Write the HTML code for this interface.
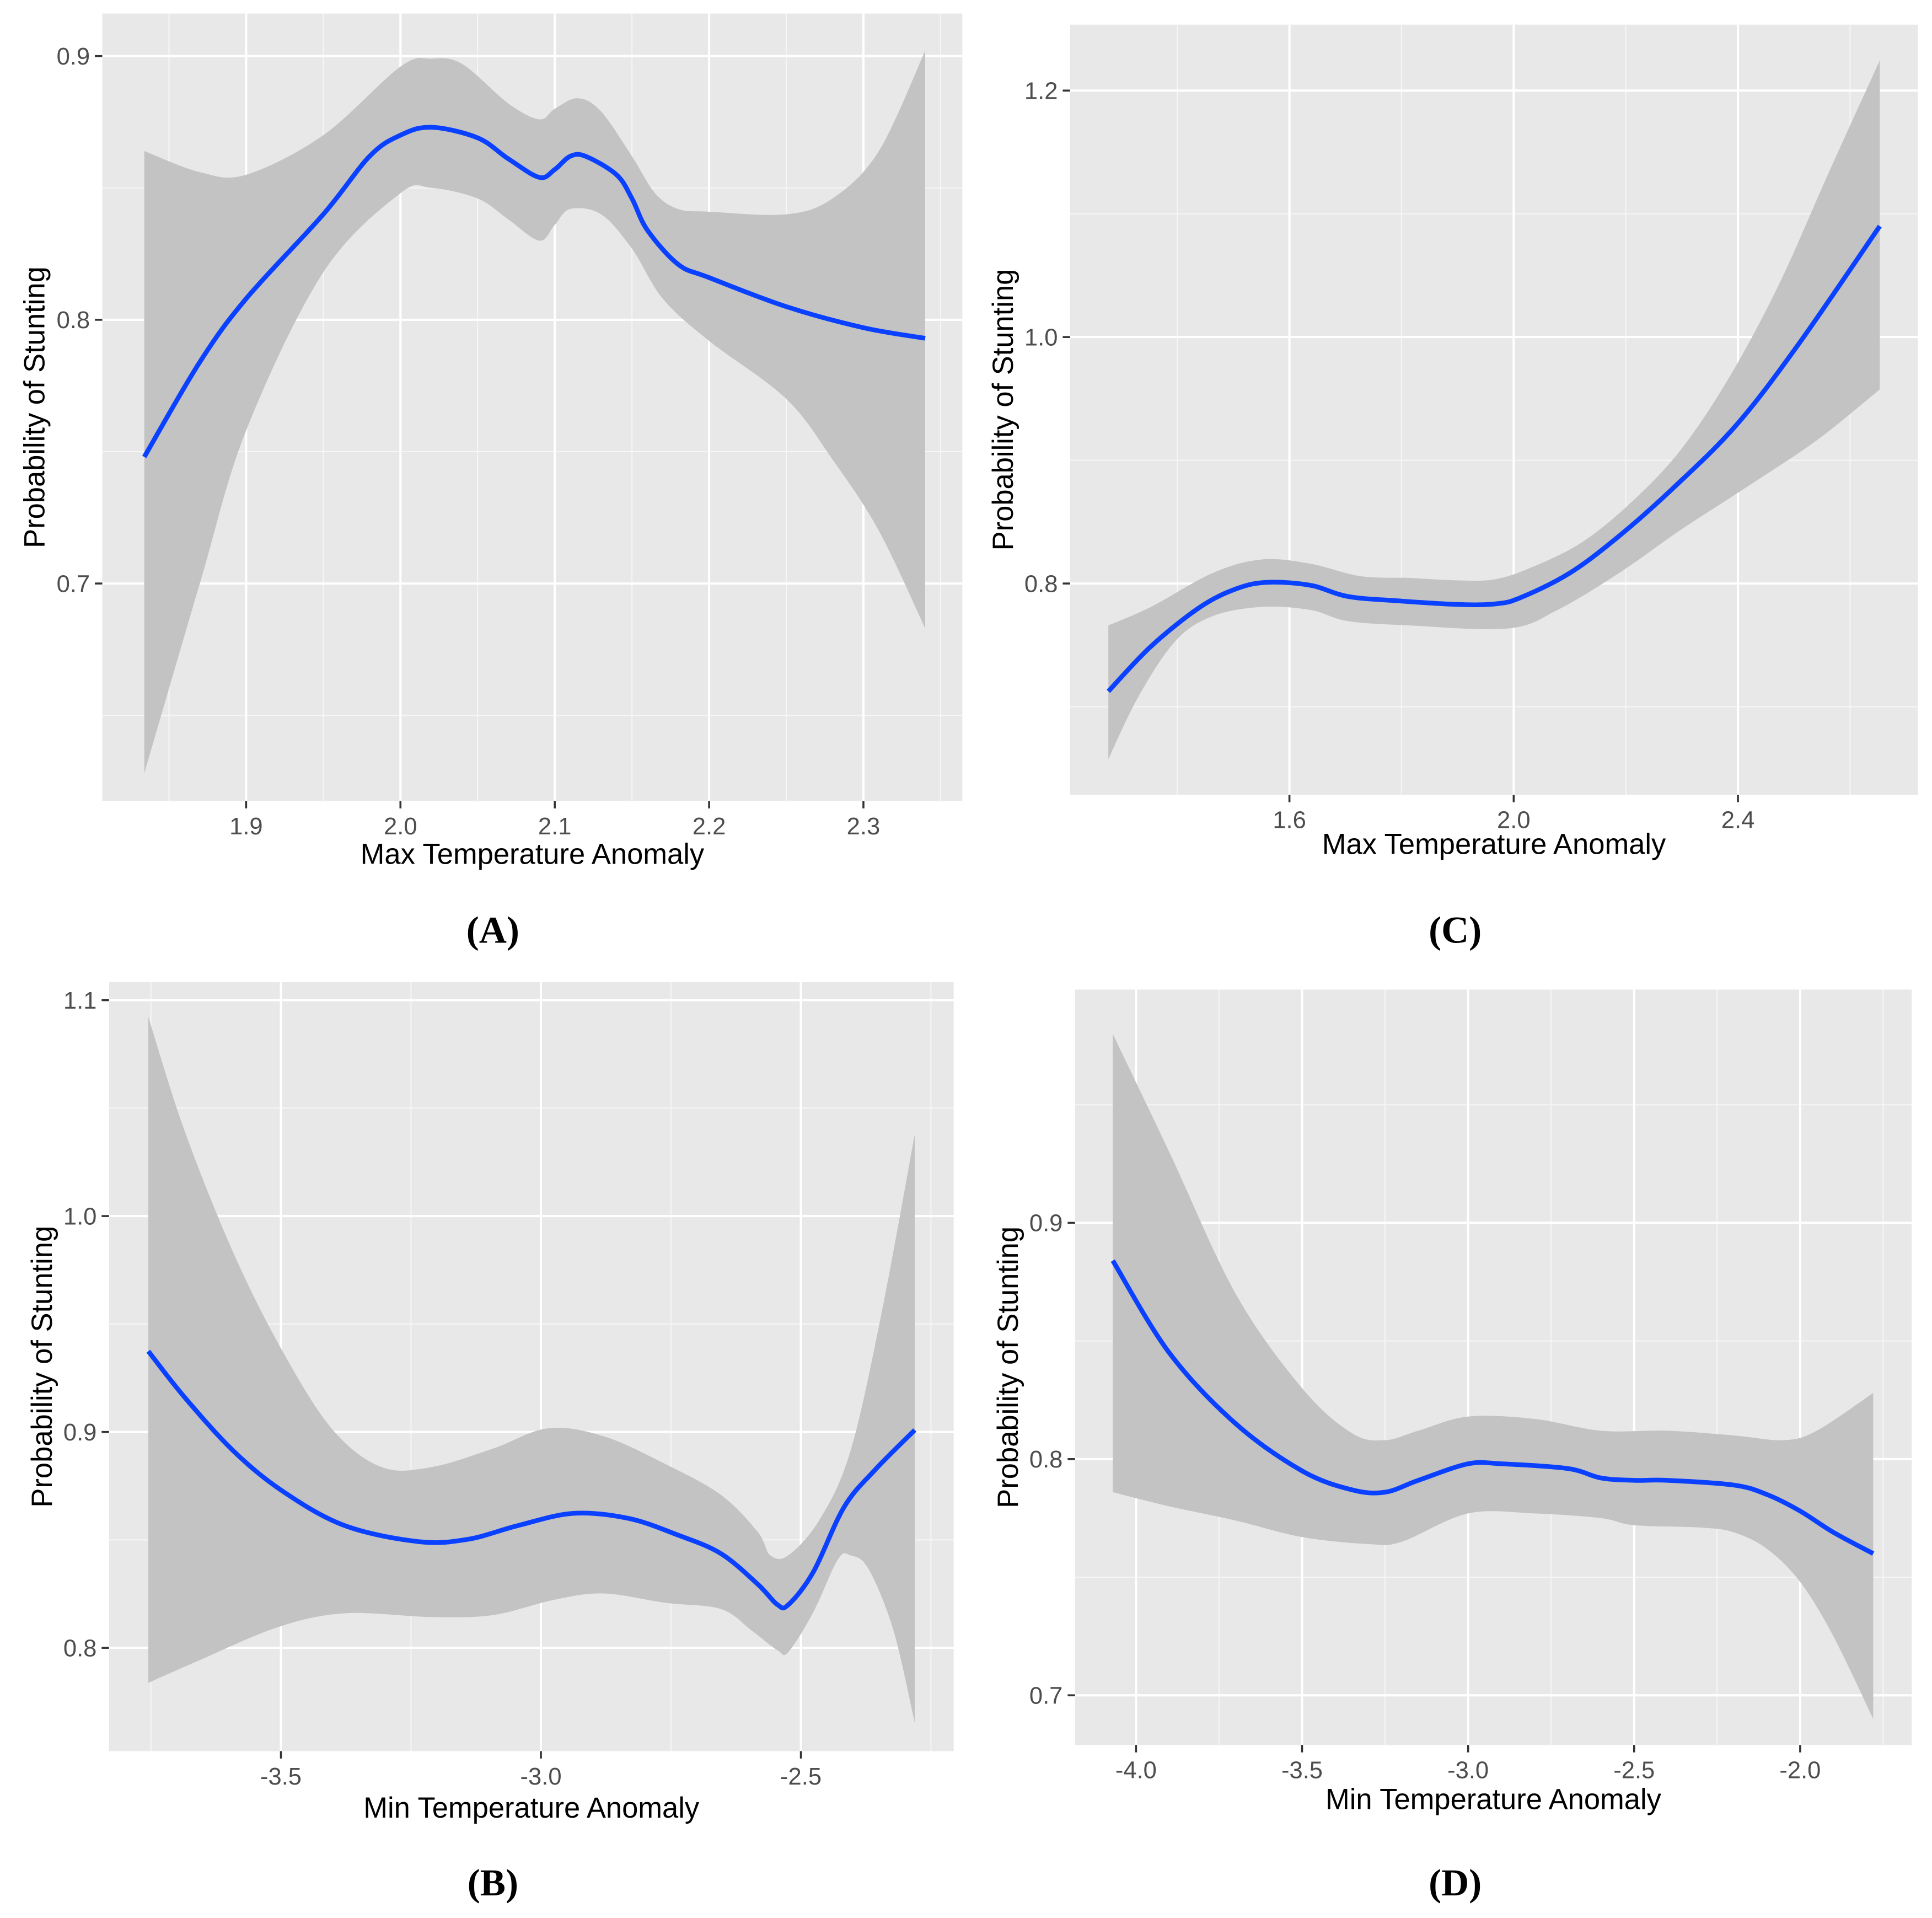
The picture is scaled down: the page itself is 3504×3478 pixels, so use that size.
<!DOCTYPE html>
<html><head><meta charset="utf-8">
<style>
html,body{margin:0;padding:0;background:#fff;}
svg{display:block;}
text{font-family:"Liberation Sans",Arial,sans-serif;}
.tick{font-size:19.5px;fill:#4d4d4d;}
.title{font-size:23.5px;fill:#000;}
.plabel{font-family:"Liberation Serif","Times New Roman",serif;font-size:31px;font-weight:bold;fill:#000;}
</style></head>
<body>
<svg id="fig" width="3504" height="3478" viewBox="0 0 1568 1556.4" preserveAspectRatio="none" xmlns="http://www.w3.org/2000/svg"></svg>
<script>
// ---------- Panel A data ----------
const aX = [1.834,1.87,1.9,1.95,1.98,2.0,2.02,2.05,2.07,2.09,2.10,2.11,2.12,2.14,2.15,2.16,2.18,2.2,2.25,2.3,2.34];
const aY = [0.748,0.784,0.808,0.840,0.862,0.870,0.873,0.869,0.861,0.854,0.857,0.862,0.862,0.855,0.846,0.834,0.821,0.816,0.805,0.797,0.793];
const aUX = [1.834,1.87,1.9,1.95,2.0,2.02,2.04,2.07,2.09,2.1,2.115,2.13,2.15,2.165,2.18,2.2,2.25,2.28,2.31,2.34];
const aU = [0.864,0.856,0.855,0.870,0.896,0.899,0.897,0.882,0.876,0.880,0.884,0.879,0.862,0.848,0.842,0.841,0.840,0.846,0.864,0.902];
const aLX = [1.834,1.87,1.9,1.95,2.0,2.02,2.05,2.07,2.09,2.1,2.11,2.13,2.15,2.17,2.2,2.25,2.28,2.31,2.34];
const aL = [0.628,0.700,0.758,0.818,0.848,0.850,0.846,0.838,0.830,0.836,0.842,0.840,0.827,0.808,0.792,0.770,0.747,0.720,0.683];
const aXTicks = [1.9,2.0,2.1,2.2,2.3];
const aXLabels = ["1.9","2.0","2.1","2.2","2.3"];
const aXMinor = [1.85,1.95,2.05,2.15,2.25,2.35];
const aYTicks = [0.7,0.8,0.9];
const aYLabels = ["0.7","0.8","0.9"];
const aYMinor = [0.65,0.75,0.85];

// ---------- Panel C data ----------
const cX = [1.277,1.353,1.441,1.507,1.562,1.638,1.704,1.792,1.902,1.968,2.012,2.1,2.188,2.287,2.397,2.507,2.653];
const cY = [0.7125,0.749,0.781,0.796,0.801,0.7985,0.7895,0.786,0.783,0.7835,0.7885,0.8085,0.8385,0.8785,0.9285,0.9935,1.09];
const cUX = [1.277,1.353,1.463,1.551,1.638,1.726,1.814,1.902,1.968,2.034,2.122,2.21,2.298,2.386,2.474,2.562,2.653];
const cU = [0.766,0.781,0.8085,0.8195,0.816,0.806,0.8045,0.8025,0.8035,0.8135,0.8335,0.866,0.9085,0.9685,1.0435,1.1335,1.2245];
const cLX = [1.277,1.331,1.397,1.463,1.551,1.638,1.704,1.814,1.99,2.078,2.188,2.298,2.408,2.54,2.653];
const cL = [0.6575,0.7085,0.7535,0.7735,0.781,0.7785,0.7695,0.766,0.7635,0.7785,0.8085,0.8435,0.876,0.916,0.9575];
const cXTicks = [1.6,2.0,2.4];
const cXLabels = ["1.6","2.0","2.4"];
const cXMinor = [1.4,1.8,2.2,2.6];
const cYTicks = [0.8,1.0,1.2];
const cYLabels = ["0.8","1.0","1.2"];
const cYMinor = [0.7,0.9,1.1];

// ---------- Panel B data ----------
const bX = [-3.755,-3.685,-3.59,-3.495,-3.377,-3.235,-3.14,-3.045,-2.938,-2.832,-2.737,-2.654,-2.583,-2.545,-2.524,-2.476,-2.417,-2.358,-2.281];
const bY = [0.9374,0.916,0.8909,0.8723,0.8566,0.8492,0.8503,0.8566,0.8623,0.86,0.8523,0.8437,0.8295,0.82,0.82,0.8352,0.8652,0.8823,0.9009];
const bUX = [-3.755,-3.685,-3.59,-3.495,-3.4,-3.306,-3.211,-3.092,-2.986,-2.879,-2.761,-2.654,-2.583,-2.559,-2.524,-2.464,-2.405,-2.346,-2.281];
const bU = [1.0922,1.0393,0.9822,0.9366,0.9009,0.8837,0.8837,0.8923,0.9017,0.898,0.8852,0.8709,0.8537,0.8429,0.8429,0.8594,0.8909,0.9537,1.0379];
const bLX = [-3.755,-3.661,-3.507,-3.377,-3.211,-3.092,-2.974,-2.879,-2.761,-2.654,-2.595,-2.545,-2.524,-2.476,-2.429,-2.405,-2.37,-2.322,-2.281];
const bL = [0.7838,0.7938,0.8095,0.816,0.8143,0.8152,0.8223,0.8252,0.8209,0.818,0.8081,0.7989,0.7981,0.8166,0.8409,0.8429,0.8366,0.8081,0.7652];
const bXTicks = [-3.5,-3.0,-2.5];
const bXLabels = ["-3.5","-3.0","-2.5"];
const bXMinor = [-3.75,-3.25,-2.75,-2.25];
const bYTicks = [0.8,0.9,1.0,1.1];
const bYLabels = ["0.8","0.9","1.0","1.1"];
const bYMinor = [0.85,0.95,1.05];

// ---------- Panel D data ----------
const dX = [-4.07,-3.9,-3.7,-3.5,-3.35,-3.25,-3.15,-3.0,-2.9,-2.7,-2.6,-2.5,-2.4,-2.2,-2.1,-2.0,-1.9,-1.78];
const dY = [0.884,0.845,0.815,0.795,0.787,0.786,0.791,0.798,0.798,0.796,0.792,0.791,0.791,0.789,0.785,0.778,0.769,0.760];
const dUX = [-4.07,-3.9,-3.7,-3.5,-3.35,-3.25,-3.15,-3.0,-2.8,-2.6,-2.4,-2.2,-2.05,-1.95,-1.78];
const dU = [0.980,0.930,0.870,0.830,0.811,0.808,0.812,0.818,0.817,0.812,0.812,0.810,0.808,0.812,0.828];
const dLX = [-4.07,-3.9,-3.7,-3.5,-3.3,-3.2,-3.0,-2.8,-2.6,-2.5,-2.3,-2.2,-2.1,-2.0,-1.9,-1.78];
const dL = [0.786,0.780,0.774,0.767,0.764,0.765,0.777,0.777,0.775,0.772,0.771,0.769,0.762,0.748,0.725,0.690];
const dXTicks = [-4.0,-3.5,-3.0,-2.5,-2.0];
const dXLabels = ["-4.0","-3.5","-3.0","-2.5","-2.0"];
const dXMinor = [-3.75,-3.25,-2.75,-2.25,-1.75];
const dYTicks = [0.7,0.8,0.9];
const dYLabels = ["0.7","0.8","0.9"];
const dYMinor = [0.75,0.85,0.95];

const NS = "http://www.w3.org/2000/svg";
const svg = document.getElementById('fig');
function mk(tag, attrs, parent){
  const e = document.createElementNS(NS, tag);
  for (const k in attrs) e.setAttribute(k, attrs[k]);
  (parent||svg).appendChild(e);
  return e;
}
function smooth(pts){
  if (pts.length<2) return '';
  let d = 'M'+pts[0][0].toFixed(2)+','+pts[0][1].toFixed(2);
  for (let i=0;i<pts.length-1;i++){
    const p0=pts[Math.max(0,i-1)], p1=pts[i], p2=pts[i+1], p3=pts[Math.min(pts.length-1,i+2)];
    const c1x=p1[0]+(p2[0]-p0[0])/6, c1y=p1[1]+(p2[1]-p0[1])/6;
    const c2x=p2[0]-(p3[0]-p1[0])/6, c2y=p2[1]-(p3[1]-p1[1])/6;
    d+=' C'+c1x.toFixed(2)+','+c1y.toFixed(2)+' '+c2x.toFixed(2)+','+c2y.toFixed(2)+' '+p2[0].toFixed(2)+','+p2[1].toFixed(2);
  }
  return d;
}
function revSmoothLine(pts){
  const r = pts.slice().reverse();
  let d = smooth(r);
  return d.replace(/^M/, 'L');
}

function panel(cfg){
  const g = mk('g', {});
  
  
  const L=cfg.left, R=cfg.right, T=cfg.top, B=cfg.bottom;
  const sx = v => cfg.xp0 + (v - cfg.xv0) * cfg.xs;
  const sy = v => cfg.yp0 - (v - cfg.yv0) * cfg.ys;
  const bg = mk('rect', {x:L, y:T, width:R-L, height:B-T, fill:'#e8e8e8'}, g);
  
  
  cfg.yMinor.forEach(v=>{ const l=mk('line',{x1:L,x2:R,y1:sy(v),y2:sy(v),stroke:'#f6f6f6','stroke-width':0.9},g);
      });
  cfg.xMinor.forEach(v=>{ const l=mk('line',{y1:T,y2:B,x1:sx(v),x2:sx(v),stroke:'#f6f6f6','stroke-width':0.9},g);
      });
  cfg.yTicks.forEach(v=>{ const l=mk('line',{x1:L,x2:R,y1:sy(v),y2:sy(v),stroke:'#ffffff','stroke-width':1.8},g);
      });
  cfg.xTicks.forEach(v=>{ const l=mk('line',{y1:T,y2:B,x1:sx(v),x2:sx(v),stroke:'#ffffff','stroke-width':1.8},g);
      });
  const up = cfg.ux.map((x,i)=>[sx(x), sy(cfg.u[i])]);
  const lo = cfg.lx.map((x,i)=>[sx(x), sy(cfg.l[i])]);
  const bd = smooth(up) + ' L' + lo[lo.length-1][0].toFixed(2)+','+lo[lo.length-1][1].toFixed(2) + ' ' + revSmoothLine(lo) + ' Z';
  const band = mk('path', {d:bd, fill:'#c3c3c3', stroke:'none'}, g);
  
  
  const ln = cfg.x.map((x,i)=>[sx(x), sy(cfg.y[i])]);
  const line = mk('path', {d:smooth(ln), fill:'none', stroke:'#0a40ff','stroke-width':3.8,'stroke-linejoin':'round'}, g);
  
  
  cfg.yTicks.forEach((v,i)=>{
    const t=mk('line',{x1:L-6,x2:L,y1:sy(v),y2:sy(v),stroke:'#333','stroke-width':1.6},g);
     
    const tx=mk('text',{x:L-10,y:sy(v)+6.8,'text-anchor':'end','class':'tick'},g);
     
    tx.textContent=cfg.yLabels[i];
  });
  cfg.xTicks.forEach((v,i)=>{
    const t=mk('line',{x1:sx(v),x2:sx(v),y1:B,y2:B+6,stroke:'#333','stroke-width':1.6},g);
     
    const tx=mk('text',{x:sx(v),y:B+27,'text-anchor':'middle','class':'tick'},g);
     
    tx.textContent=cfg.xLabels[i];
  });
  const xt=mk('text',{x:(L+R)/2,y:cfg.xTitleY,'text-anchor':'middle','class':'title'},g);
   
  xt.textContent=cfg.xTitle;
  const yt=mk('text',{x:0,y:0,'text-anchor':'middle','class':'title',transform:'translate('+cfg.yTitleX+','+(T+B)/2+') rotate(-90)'},g);
   
  yt.textContent='Probability of Stunting';
  const pl=mk('text',{x:cfg.labelX,y:cfg.labelY,'text-anchor':'middle','class':'plabel'},g);
   
  pl.textContent=cfg.label;
}

panel({name:'panel-a', left:83, right:781, top:11, bottom:650,
  xp0:325, xv0:2.0, xs:1252.5, yp0:259.5, yv0:0.8, ys:2140,
  x:aX,y:aY,ux:aUX,u:aU,lx:aLX,l:aL,
  xTicks:aXTicks,xLabels:aXLabels,xMinor:aXMinor,yTicks:aYTicks,yLabels:aYLabels,yMinor:aYMinor,
  xTitle:'Max Temperature Anomaly', xTitleY:701, yTitleX:36, label:'(A)', labelX:400, labelY:765});

panel({name:'panel-c', left:868.5, right:1556.5, top:20, bottom:645,
  xp0:1228.5, xv0:2.0, xs:455, yp0:473.5, yv0:0.8, ys:1000,
  x:cX,y:cY,ux:cUX,u:cU,lx:cLX,l:cL,
  xTicks:cXTicks,xLabels:cXLabels,xMinor:cXMinor,yTicks:cYTicks,yLabels:cYLabels,yMinor:cYMinor,
  xTitle:'Max Temperature Anomaly', xTitleY:693, yTitleX:822, label:'(C)', labelX:1181, labelY:765});

panel({name:'panel-b', left:88.5, right:774, top:797, bottom:1421,
  xp0:439, xv0:-3.0, xs:422, yp0:1162, yv0:0.9, ys:1752,
  x:bX,y:bY,ux:bUX,u:bU,lx:bLX,l:bL,
  xTicks:bXTicks,xLabels:bXLabels,xMinor:bXMinor,yTicks:bYTicks,yLabels:bYLabels,yMinor:bYMinor,
  xTitle:'Min Temperature Anomaly', xTitleY:1475, yTitleX:42, label:'(B)', labelX:400, labelY:1538});

panel({name:'panel-d', left:872.5, right:1551.5, top:803, bottom:1416,
  xp0:1191.5, xv0:-3.0, xs:269.5, yp0:1184, yv0:0.8, ys:1917,
  x:dX,y:dY,ux:dUX,u:dU,lx:dLX,l:dL,
  xTicks:dXTicks,xLabels:dXLabels,xMinor:dXMinor,yTicks:dYTicks,yLabels:dYLabels,yMinor:dYMinor,
  xTitle:'Min Temperature Anomaly', xTitleY:1468, yTitleX:826, label:'(D)', labelX:1181, labelY:1538});
</script>
</body></html>
